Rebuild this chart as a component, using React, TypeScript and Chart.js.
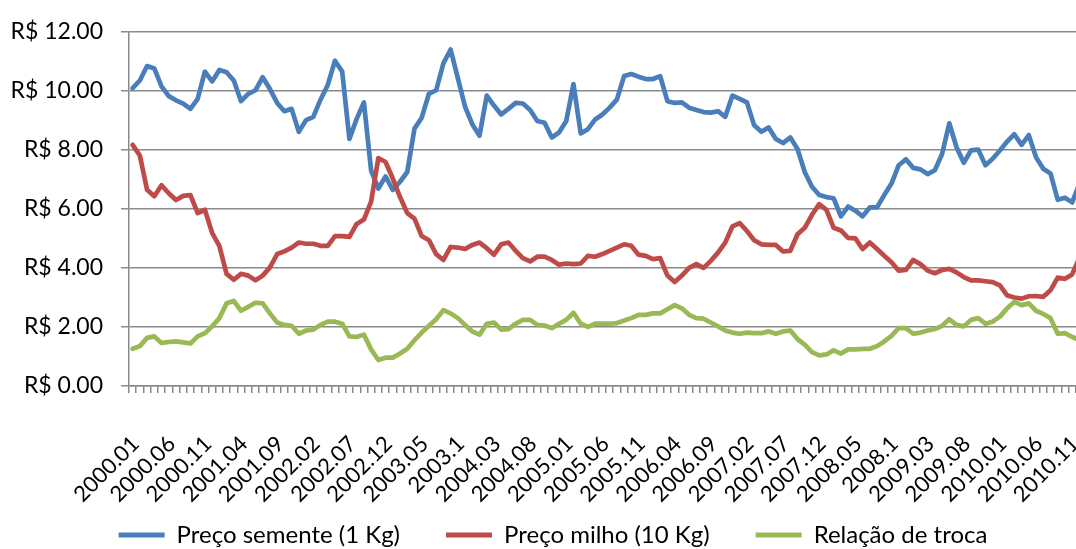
import React, { useEffect, useRef } from 'react';
import { Chart, registerables } from 'chart.js';

Chart.register(...registerables);

// Monthly series, January 2000 to December 2010
const FIRST_YEAR = 2000;
const MONTH_COUNT = 132;
const LABEL_STEP = 5;

// "YYYY.MM" labels written as numbers, so October reads e.g. 2003.1
const months: string[] = Array.from({ length: MONTH_COUNT }, (_, i) => {
  const year = FIRST_YEAR + Math.floor(i / 12);
  const month = String((i % 12) + 1).padStart(2, '0');
  return String(Number(`${year}.${month}`));
});

// Preço semente (R$ por 1 Kg)
const precoSemente: number[] = [
  10.09, 10.35, 10.84, 10.76, 10.15, 9.82, 9.68, 9.57, 9.39, 9.73,
  10.65, 10.32, 10.71, 10.63, 10.35, 9.65, 9.9, 10.02, 10.46, 10.06,
  9.59, 9.31, 9.39, 8.61, 9.01, 9.12, 9.7, 10.2, 11.02, 10.65,
  8.37, 9.05, 9.61, 7.3, 6.69, 7.1, 6.64, 6.92, 7.25, 8.72,
  9.09, 9.9, 10.02, 10.93, 11.4, 10.43, 9.46, 8.87, 8.48, 9.84,
  9.5, 9.2, 9.39, 9.59, 9.57, 9.35, 8.98, 8.92, 8.42, 8.59,
  8.98, 10.23, 8.56, 8.7, 9.03, 9.2, 9.43, 9.7, 10.5, 10.57,
  10.48, 10.4, 10.4, 10.5, 9.65, 9.59, 9.61, 9.43, 9.35, 9.28,
  9.26, 9.31, 9.12, 9.84, 9.73, 9.61, 8.83, 8.61, 8.76, 8.37,
  8.23, 8.42, 8.03, 7.25, 6.75, 6.47, 6.4, 6.36, 5.75, 6.08,
  5.94, 5.75, 6.05, 6.05, 6.47, 6.86, 7.48, 7.68, 7.39, 7.34,
  7.18, 7.31, 7.86, 8.9, 8.09, 7.56, 7.98, 8.01, 7.48, 7.7,
  7.98, 8.28, 8.53, 8.17, 8.5, 7.75, 7.36, 7.2, 6.31, 6.38,
  6.22, 6.85,
];

// Preço milho (R$ por 10 Kg)
const precoMilho: number[] = [
  8.17, 7.81, 6.65, 6.43, 6.8, 6.53, 6.3, 6.44, 6.47, 5.86,
  5.97, 5.19, 4.75, 3.8, 3.6, 3.8, 3.74, 3.58, 3.74, 4.02,
  4.47, 4.56, 4.69, 4.86, 4.82, 4.82, 4.75, 4.75, 5.08, 5.08,
  5.05, 5.49, 5.64, 6.25, 7.72, 7.59, 7.03, 6.4, 5.86, 5.67,
  5.08, 4.94, 4.47, 4.27, 4.71, 4.69, 4.64, 4.78, 4.86, 4.67,
  4.45, 4.8, 4.86, 4.58, 4.33, 4.22, 4.38, 4.38, 4.27, 4.11,
  4.15, 4.13, 4.15, 4.41, 4.38, 4.47, 4.58, 4.69, 4.8, 4.75,
  4.45, 4.41, 4.3, 4.33, 3.74, 3.52, 3.74, 4.0, 4.13, 4.0,
  4.24, 4.52, 4.86, 5.41, 5.52, 5.25, 4.94, 4.8, 4.78, 4.78,
  4.56, 4.58, 5.14, 5.36, 5.8, 6.16, 5.97, 5.36, 5.27, 5.02,
  5.0, 4.64, 4.86, 4.64, 4.41, 4.19, 3.91, 3.93, 4.27, 4.13,
  3.91, 3.82, 3.93, 3.97, 3.85, 3.69, 3.58, 3.58, 3.55, 3.52,
  3.41, 3.07, 3.0, 2.96, 3.04, 3.05, 3.02, 3.24, 3.67, 3.63,
  3.78, 4.35,
];

// Relação de troca
const relacaoTroca: number[] = [
  1.26, 1.35, 1.63, 1.68, 1.46, 1.49, 1.51, 1.48, 1.44, 1.68,
  1.79, 2.02, 2.3, 2.8, 2.88, 2.55, 2.68, 2.82, 2.8, 2.46,
  2.15, 2.07, 2.04, 1.77, 1.88, 1.91, 2.07, 2.18, 2.18, 2.11,
  1.68, 1.66, 1.74, 1.24, 0.88, 0.96, 0.96, 1.1, 1.26, 1.55,
  1.81, 2.04, 2.26, 2.57, 2.46, 2.3, 2.07, 1.85, 1.74, 2.11,
  2.15, 1.91, 1.93, 2.11, 2.24, 2.24, 2.07, 2.05, 1.96, 2.11,
  2.24, 2.48, 2.11, 2.0, 2.11, 2.11, 2.11, 2.13, 2.22, 2.3,
  2.41, 2.41, 2.46, 2.46, 2.6, 2.74, 2.63, 2.41, 2.3, 2.28,
  2.15, 2.02, 1.88, 1.81, 1.77, 1.81, 1.79, 1.79, 1.85, 1.77,
  1.85, 1.88, 1.59, 1.4, 1.15, 1.04, 1.07, 1.21, 1.1, 1.24,
  1.24, 1.26, 1.26, 1.35, 1.51, 1.7, 1.96, 1.96, 1.77, 1.81,
  1.88, 1.93, 2.04, 2.26, 2.07, 2.02, 2.24, 2.3, 2.11, 2.18,
  2.35, 2.63, 2.85, 2.74, 2.8, 2.55, 2.44, 2.3, 1.77, 1.79,
  1.66, 1.56,
];

const Y_MIN = 0;
const Y_MAX = 12;
const Y_STEP = 2;

const BLUE = '#4A7EBB';
const RED = '#BE4B48';
const GREEN = '#98B954';
const GRID = '#8A8A8A';
const FONT = 'Lato, "Open Sans", sans-serif';

// The drawing surface runs past the visible frame on the right,
// so the last months are cut off at the window edge.
const CANVAS_W = 1143;
const CANVAS_H = 557;

// Let tick labels spill outside their axis box instead of being clipped to it
const noLabelClip = (scale: any) => {
  scale._computeLabelArea = () => undefined;
};

export default function App() {
  const canvasRef = useRef<HTMLCanvasElement>(null);

  useEffect(() => {
    const canvas = canvasRef.current;
    if (!canvas) return;

    const chart = new Chart(canvas, {
      type: 'line',
      data: {
        labels: months,
        datasets: [
          { label: 'Preço semente (1 Kg)', data: precoSemente, borderColor: BLUE, backgroundColor: BLUE, order: 3 },
          { label: 'Preço milho (10 Kg)', data: precoMilho, borderColor: RED, backgroundColor: RED, order: 2 },
          { label: 'Relação de troca', data: relacaoTroca, borderColor: GREEN, backgroundColor: GREEN, order: 1 },
        ],
      },
      options: {
        responsive: false,
        animation: false,
        events: [],
        font: { family: FONT },
        layout: { padding: { left: 23, right: 60, top: 28, bottom: 0 } },
        elements: {
          line: { borderWidth: 4.7, tension: 0, borderJoinStyle: 'round', borderCapStyle: 'round', fill: false },
          point: { radius: 0, hoverRadius: 0 },
        },
        plugins: {
          tooltip: { enabled: false },
          legend: {
            position: 'bottom',
            align: 'center',
            labels: {
              color: '#000',
              font: { family: FONT, size: 24 },
              boxWidth: 46,
              boxHeight: 5,
              padding: 46,
              sort: (a: any, b: any) => a.datasetIndex - b.datasetIndex,
              generateLabels: (c: any) =>
                Chart.defaults.plugins.legend.labels
                  .generateLabels(c)
                  .map((item: any) => ({ ...item, fillStyle: item.strokeStyle, lineWidth: 0 })),
            },
          },
        },
        scales: {
          x: {
            type: 'category',
            offset: true,
            grid: { offset: true, drawOnChartArea: false, drawTicks: true, tickLength: 7, color: GRID, lineWidth: 1.5 },
            border: { display: true, color: GRID, width: 1.5 },
            ticks: {
              autoSkip: false,
              maxRotation: 45,
              minRotation: 45,
              padding: 38,
              labelOffset: 3,
              color: '#000',
              font: { family: FONT, size: 22 },
              callback: (_v: any, i: number) => (i % LABEL_STEP === 0 ? months[i] : ''),
            },
            afterFit: (s: any) => {
              s.height = 91;
              noLabelClip(s);
            },
          },
          y: {
            min: Y_MIN,
            max: Y_MAX,
            ticks: {
              stepSize: Y_STEP,
              padding: 18,
              color: '#000',
              font: { family: FONT, size: 23 },
              callback: (v: any) => 'R$ ' + Number(v).toFixed(2),
            },
            grid: { color: GRID, lineWidth: 1.5, drawTicks: true, tickLength: 8 },
            border: { display: true, color: GRID, width: 1.5 },
            afterFit: (s: any) => {
              s.width = 106;
              noLabelClip(s);
            },
          },
        },
      },
    } as any);

    return () => chart.destroy();
  }, []);

  return (
    <div
      style={{
        position: 'fixed',
        left: 0,
        top: 0,
        width: 1076,
        height: 549,
        overflow: 'hidden',
        background: '#fff',
      }}
    >
      <canvas ref={canvasRef} width={CANVAS_W} height={CANVAS_H} style={{ display: 'block' }} />
    </div>
  );
}
